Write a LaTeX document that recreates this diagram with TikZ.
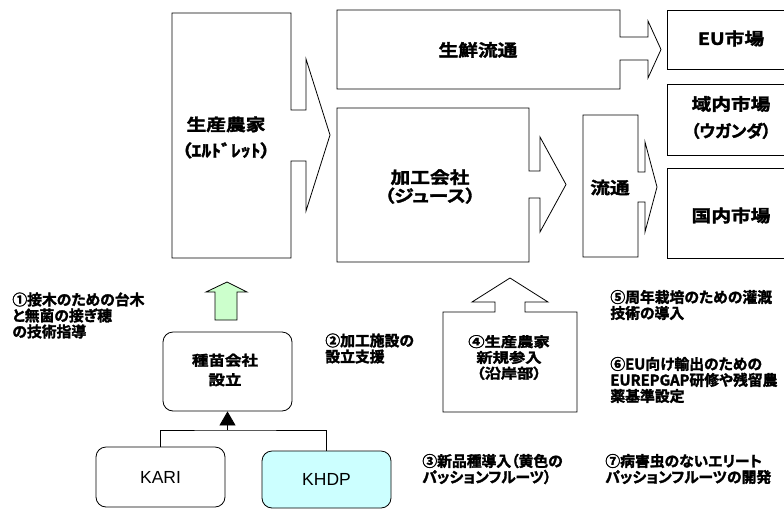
\documentclass[tikz,border=0pt]{standalone}
\usepackage{fontspec}
\newfontfamily\jpm[FakeStretch=1.18,FakeBold=2,RawFeature=+palt]{Noto Sans CJK JP Bold}
\newfontfamily\jpn[FakeBold=2,RawFeature=+palt]{Noto Sans CJK JP Bold}
\newfontfamily\lat{Liberation Sans}
\usetikzlibrary{arrows.meta}
\definecolor{lightgreen}{HTML}{CCFFCC}
\definecolor{lightcyan}{HTML}{CCFFFF}
\begin{document}
\begin{tikzpicture}[x=1pt,y=-1pt,line width=0.8pt,
  outline/.style={draw=black,line width=0.8pt,fill=white,line join=miter},
  big/.style={font=\jpm\fontsize{16.7}{20}\selectfont,align=center,inner sep=0pt},
  small/.style={font=\jpn\fontsize{14.8}{16}\selectfont,align=left,inner sep=0pt,anchor=west},
  rbox/.style={draw=black,line width=0.8pt,rounded corners=10pt,minimum width=129pt,inner sep=0pt},
  latin/.style={font=\lat\fontsize{17.5}{20}\selectfont}]
\clip (0,0) rectangle (784,509);
\fill[white] (0,0) rectangle (784,509);

% 生産農家 (arrow box)
\draw[outline] (172,13) -- (291,13) -- (291,110) -- (306,110) -- (306,59) -- (330,135)
  -- (306,211) -- (306,161) -- (291,161) -- (291,258) -- (172,258) -- cycle;
\node[big,font=\jpm\fontsize{16.7}{26}\selectfont] (farmer) at (226,137.5) {生産農家\\（ｴﾙﾄﾞﾚｯﾄ）};

% 生鮮流通
\draw[outline] (337,10) -- (620,10) -- (620,37) -- (648,37) -- (648,21) -- (661,49.5)
  -- (648,78) -- (648,60) -- (620,60) -- (620,89) -- (337,89) -- cycle;
\node[big] (fresh) at (478,50) {生鮮流通};

% 加工会社
\draw[outline] (337,108) -- (529,108) -- (529,171) -- (540,171) -- (540,137) -- (566,184.5)
  -- (540,232) -- (540,198) -- (529,198) -- (529,262) -- (337,262) -- cycle;
\node[big,font=\jpm\fontsize{16.7}{18.5}\selectfont] (juice) at (430,186.5) {加工会社\\（ジュース）};

% 流通
\draw[outline] (583,115) -- (638,115) -- (638,172) -- (645,172) -- (645,142) -- (657,187)
  -- (645,232) -- (645,202) -- (638,202) -- (638,257) -- (583,257) -- cycle;
\node[big] (dist) at (610,187.5) {流通};

% markets
\draw[outline] (667,10) rectangle (795,69);
\node[big] (eu) at (731,38.5) {EU市場};
\draw[outline] (667,84) rectangle (795,155);
\node[big,font=\jpm\fontsize{16.7}{27}\selectfont] (region) at (731,117.5) {域内市場\\{\jpn（ウガンダ）}};
\draw[outline] (667,168) rectangle (795,258);
\node[big] (domestic) at (731,215.5) {国内市場};

% green up arrow
\draw[draw=black,line width=0.8pt,fill=lightgreen] (227,282) -- (247,292) -- (237,292) -- (237,320)
  -- (215,320) -- (215,292) -- (206,292) -- cycle;

% ④ arrow box
\draw[outline] (510,278) -- (548,302) -- (525,302) -- (525,312) -- (577,312) -- (577,412)
  -- (443,412) -- (443,312) -- (495,312) -- (495,302) -- (472,302) -- cycle;
\node[big,font=\jpm\fontsize{13.8}{15.8}\selectfont] (newfarm) at (509,357.5) {④生産農家\\新規参入\\（沿岸部）};

% seedling company and sources
\node[rbox,minimum height=79pt] (seed) at (227.5,371.5) {};
\node[big,font=\jpm\fontsize{14}{19.5}\selectfont] (seedtxt) at (225,370) {種苗会社\\設立};
\node[rbox,minimum height=60pt,latin] (kari) at (160.5,477) {KARI};
\node[rbox,minimum height=57pt,fill=lightcyan,latin] (khdp) at (326.5,479.5) {KHDP};
\coordinate (junc) at (seed.south |- 0,430);
\draw[line width=0.8pt] (kari.north) |- (junc) -| (khdp.north);
\draw[line width=0.8pt,-{Triangle[width=16pt,length=14pt]}] (junc) -- (seed.south);

% notes
\node[small] (n1) at (12,315.5) {①接木のための台木\\と無菌の接ぎ穂\\の技術指導};
\node[small] (n2) at (325,348.5) {②加工施設の\\設立支援};
\node[small] (n3) at (422,469) {③新品種導入（黄色の\\パッションフルーツ）};
\node[small] (n5) at (610,305) {⑤周年栽培のための灌漑\\技術の導入};
\node[small] (n6) at (610,380) {⑥EU向け輸出のための\\EUREPGAP研修や残留農\\薬基準設定};
\node[small] (n7) at (605,469) {⑦病害虫のないエリート\\パッションフルーツの開発};
\end{tikzpicture}
\end{document}
